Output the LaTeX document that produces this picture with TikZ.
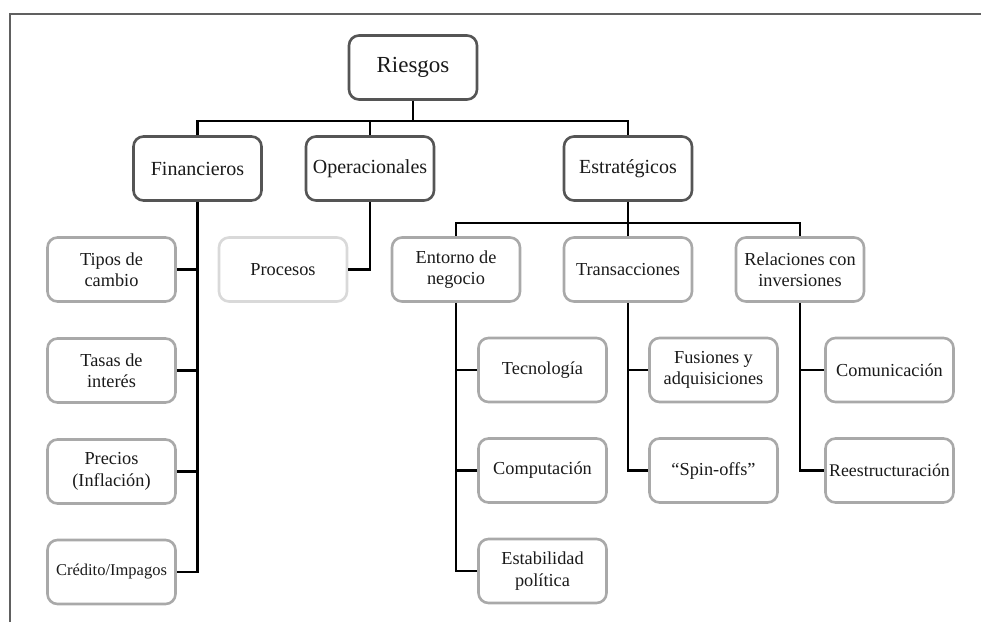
\documentclass[tikz,border=0pt]{standalone}
\usepackage{fontspec}
\setmainfont{Liberation Serif}
\definecolor{darkb}{HTML}{555555}
\definecolor{lightb}{HTML}{A9A9A9}
\definecolor{faintb}{HTML}{D9D9D9}
\definecolor{txt}{HTML}{1A1A1A}
\definecolor{framec}{HTML}{606060}
\tikzset{
  boxbase/.style={rounded corners=10pt, minimum width=128pt, minimum height=64pt,
    inner sep=0pt, align=center, text=txt, fill=white},
  lvlone/.style={boxbase, draw=darkb, line width=2.6pt, font=\fontsize{20}{22}\selectfont},
  lvltwo/.style={boxbase, draw=lightb, line width=2.6pt, font=\fontsize{18.3}{21.5}\selectfont},
  faintbox/.style={lvltwo, draw=faintb},
  conn/.style={line width=2.2pt, draw=black},
  framel/.style={line width=1.4pt, draw=framec}
}
\begin{document}
\begin{tikzpicture}[x=1pt,y=-1pt]
\useasboundingbox (0,0) rectangle (981,622);
\draw[framel] (10,622) -- (10,14) -- (981,14);

% level 0 and 1
\node[lvlone, font=\fontsize{23}{25}\selectfont] (riesgos) at (413,67.5) {Riesgos};
\node[lvlone] (fin) at (197.5,168.5) {Financieros};
\node[lvlone] (ope) at (370,168.5) {Operacionales};
\node[lvlone] (est) at (628,168.5) {Estratégicos};

% Financieros children
\node[lvltwo] (tipos) at (111.5,269.5) {Tipos de\\cambio};
\node[lvltwo] (tasas) at (111.5,370.5) {Tasas de\\interés};
\node[lvltwo] (precios) at (111.5,471.5) {Precios\\(Inflación)};
\node[lvltwo, font=\fontsize{16.5}{19}\selectfont] (credito) at (111.5,572) {Crédito/Impagos};

% Operacionales child
\node[faintbox] (procesos) at (283,269.5) {Procesos};

% Estrategicos children
\node[lvltwo] (entorno) at (456,269.5) {Entorno de\\negocio};
\node[lvltwo] (trans) at (628,269.5) {Transacciones};
\node[lvltwo] (rel) at (800,269.5) {Relaciones con\\inversiones};

\node[lvltwo] (tec) at (542.5,370) {Tecnología};
\node[lvltwo] (comp) at (542.5,470.5) {Computación};
\node[lvltwo] (estab) at (542.5,571) {Estabilidad\\política};

\node[lvltwo] (fus) at (713.5,370) {Fusiones y\\adquisiciones};
\node[lvltwo] (spin) at (713.5,470.5) {“Spin-offs”};

\node[lvltwo] (com) at (889.5,370) {Comunicación};
\node[lvltwo, font=\fontsize{17.8}{21}\selectfont] (rees) at (889.5,470.5) {Reestructuración};

% bus coordinates
\coordinate (busone) at (0,121);
\coordinate (bustwo) at (0,223);

% connectors level 0 -> 1
\draw[conn] (riesgos.south) -- (riesgos.south |- busone);
\draw[conn] (fin.north) -- (fin.north |- busone) -- (est.north |- busone) -- (est.north);
\draw[conn] (ope.north) -- (ope.north |- busone);

% Financieros trunk
\draw[conn] (fin.south) |- (credito.east);
\draw[conn] (tipos.east) -- (tipos.east -| fin.south);
\draw[conn] (tasas.east) -- (tasas.east -| fin.south);
\draw[conn] (precios.east) -- (precios.east -| fin.south);

% Operacionales
\draw[conn] (ope.south) |- (procesos.east);

% Estrategicos bus
\draw[conn] (est.south) -- (est.south |- bustwo);
\draw[conn] (entorno.north) -- (entorno.north |- bustwo) -- (rel.north |- bustwo) -- (rel.north);
\draw[conn] (trans.north) -- (trans.north |- bustwo);

% Entorno trunk
\draw[conn] (entorno.south) |- (estab.west);
\draw[conn] (tec.west) -- (tec.west -| entorno.south);
\draw[conn] (comp.west) -- (comp.west -| entorno.south);

% Transacciones trunk
\draw[conn] (trans.south) |- (spin.west);
\draw[conn] (fus.west) -- (fus.west -| trans.south);

% Relaciones trunk
\draw[conn] (rel.south) |- (rees.west);
\draw[conn] (com.west) -- (com.west -| rel.south);
\end{tikzpicture}
\end{document}
